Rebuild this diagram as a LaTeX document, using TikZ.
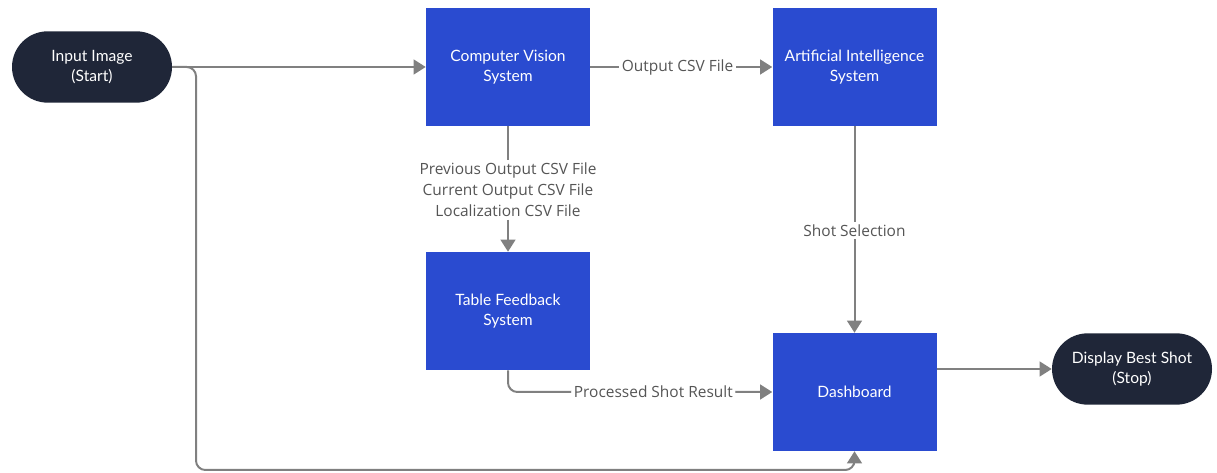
\documentclass[tikz,border=0pt]{standalone}
\usepackage{fontspec}
\setmainfont{Lato}
\newfontfamily\labelfont{Open Sans}
\usetikzlibrary{shapes.misc,arrows.meta}
\definecolor{boxblue}{RGB}{42,75,208}
\definecolor{pillnavy}{RGB}{31,38,56}
\definecolor{linegray}{RGB}{128,128,128}
\definecolor{labelgray}{RGB}{85,85,85}
\tikzset{
  stage/.style={rectangle, fill=boxblue, text=white, align=center,
    minimum width=123pt, minimum height=88.5pt, inner sep=2pt,
    font=\fontsize{11.7}{15.5}\selectfont},
  terminal/.style={rounded rectangle, fill=pillnavy, text=white, align=center,
    minimum width=124pt, minimum height=53.5pt, inner sep=2pt,
    font=\fontsize{11.7}{15.5}\selectfont},
  wire/.style={draw=linegray, line width=1.5pt},
  flow/.style={wire, -{Triangle[length=9pt,width=11pt]}},
  tag/.style={fill=white, text=labelgray, align=center, inner sep=2pt,
    font=\labelfont\fontsize{11.6}{15.6}\selectfont}
}
\begin{document}
\begin{tikzpicture}[x=0.75pt,y=-0.75pt]
\useasboundingbox (0,0) rectangle (1217,473);

% terminals
\node[terminal] (start) at (92,67) {Input Image\\(Start)};
\node[terminal] (stop) at (1132,369) {Display Best Shot\\(Stop)};

% processing stages
\node[stage] (cv) at (508,67) {Computer Vision\\System};
\node[stage] (ai) at (854.5,67) {Artificial Intelligence\\System};
\node[stage] (tfs) at (508,311) {Table Feedback\\System};
\node[stage] (dash) at (854.5,392) {Dashboard};

% bypass route along the bottom
\coordinate (loop) at (196,470);
\draw[flow, rounded corners=7pt] (start.east) -| (loop) -| (dash.south);

% main connections
\draw[flow] (start.east) -- (cv.west);
\draw[flow] (cv.east) -- node[tag, pos=0.48] {Output CSV File} (ai.west);

\node[tag] (csvs) at (508,190) {Previous Output CSV File\\Current Output CSV File\\Localization CSV File};
\draw[wire] (cv.south) -- (csvs.north);
\draw[flow] (csvs.south) -- (tfs.north);

\draw[flow] (ai.south) -- node[tag, pos=0.505] {Shot Selection} (dash.north);

\draw[flow, rounded corners=7pt] (tfs.south) |- node[tag, pos=0.775] {Processed Shot Result} (dash.west);

\draw[flow] (dash.east |- stop.west) -- (stop.west);
\end{tikzpicture}
\end{document}
